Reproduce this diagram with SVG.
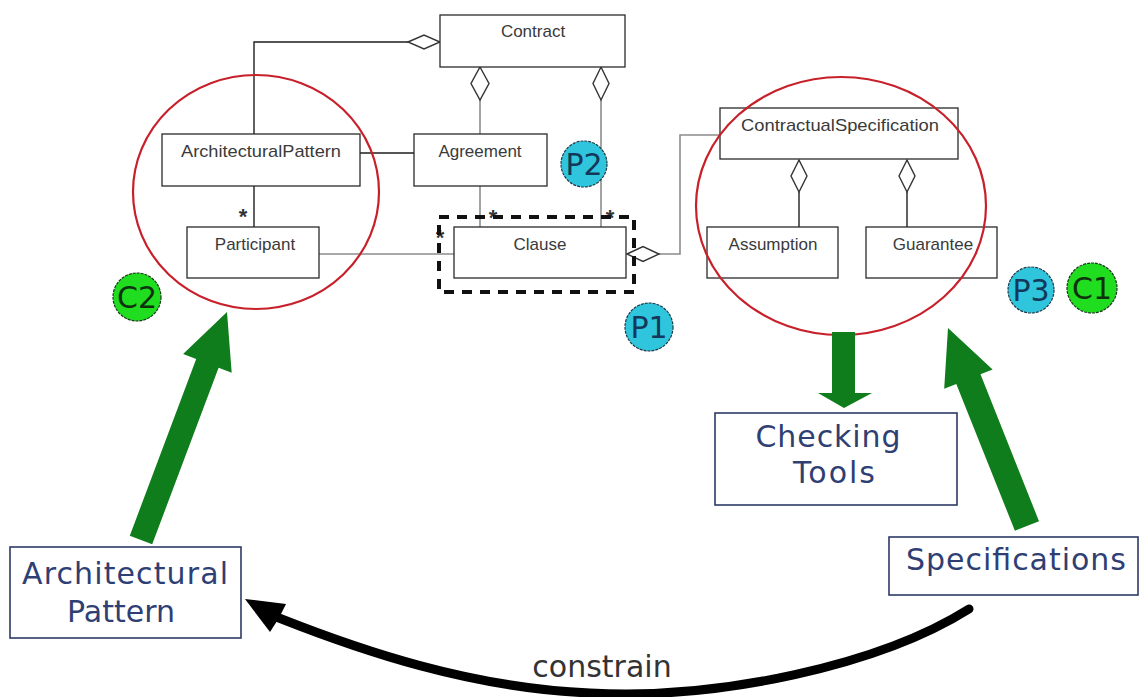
<svg xmlns="http://www.w3.org/2000/svg" width="1139" height="697" viewBox="0 0 1139 697">
  <style>
    .box { fill: #ffffff; stroke: #2a2a2a; stroke-width: 1.3; }
    .uml { font-family: "Liberation Sans", Arial, sans-serif; font-size: 17px; fill: #3a3a3a; text-anchor: middle; }
    .star { font-family: "Liberation Sans", Arial, sans-serif; font-size: 22px; font-weight: bold; fill: #333333; text-anchor: middle; }
    .dark { fill: none; stroke: #1e1e1e; stroke-width: 1.4; }
    .grey { fill: none; stroke: #8c8c8c; stroke-width: 1.6; }
    .dia { fill: #ffffff; stroke: #333333; stroke-width: 1.4; }
    .halo { fill: none; stroke: #c8202a; stroke-width: 2.2; }
    .big { fill: #ffffff; stroke: #2e3a66; stroke-width: 1.6; }
    .label { font-family: "DejaVu Sans", Verdana, sans-serif; font-size: 30px; fill: #2f3f74; text-anchor: middle; }
    .green { fill: #0f7d1c; }
    .badgeP { fill: #2fc6dd; stroke: #1c3a4a; stroke-width: 1.2; stroke-dasharray: 3 1; }
    .badgeC { fill: #20dd20; stroke: #173a17; stroke-width: 1.2; stroke-dasharray: 3 1; }
    .btxt { font-family: "DejaVu Sans", Verdana, sans-serif; font-size: 30px; text-anchor: middle; }
  </style>

  <rect width="1139" height="697" fill="#ffffff"/>

  <!-- class-diagram connectors -->
  <g id="connectors">
    <!-- Contract aggregates ArchitecturalPattern -->
    <polyline class="dark" points="408,42 254,42 254,134"/>
    <polygon class="dia" points="408,42 424,35 440,42 424,49"/>
    <!-- Contract aggregates Agreement / Clause -->
    <line class="grey" x1="480" y1="100" x2="480" y2="134"/>
    <polygon class="dia" points="480,67 489,83.5 480,100 471,83.5"/>
    <line class="grey" x1="601" y1="100" x2="601" y2="227"/>
    <polygon class="dia" points="601,67 609,83.5 601,100 593,83.5"/>
    <!-- ArchitecturalPattern - Agreement -->
    <line class="dark" x1="360" y1="153" x2="414" y2="153"/>
    <!-- ArchitecturalPattern - Participant -->
    <line class="dark" x1="254" y1="186" x2="254" y2="227"/>
    <!-- Agreement - Clause -->
    <line class="grey" x1="480" y1="186" x2="480" y2="227"/>
    <!-- Participant - Clause -->
    <line class="grey" x1="319" y1="254" x2="454" y2="254"/>
    <!-- ContractualSpecification aggregates Clause -->
    <polyline class="grey" points="659,254 680,254 680,135 720,135"/>
    <polygon class="dia" points="627,254 643,246.5 659,254 643,261.5"/>
    <!-- ContractualSpecification aggregates Assumption / Guarantee -->
    <line class="dark" x1="799" y1="192" x2="799" y2="227"/>
    <polygon class="dia" points="799,160 807,176 799,192 791,176"/>
    <line class="dark" x1="907" y1="192" x2="907" y2="227"/>
    <polygon class="dia" points="907,160 915,176 907,192 899,176"/>
    <!-- multiplicities -->
    <text class="star" x="243" y="224">*</text>
    <text class="star" x="493" y="225">*</text>
    <text class="star" x="610" y="225">*</text>
    <text class="star" x="440" y="245">*</text>
  </g>

  <!-- classes -->
  <g id="contract">
    <rect class="box" x="440" y="15" width="185" height="52"/>
    <text class="uml" x="533" y="37">Contract</text>
  </g>
  <g id="architectural-pattern-class">
    <rect class="box" x="162" y="134" width="198" height="52"/>
    <text class="uml" x="261" y="157" textLength="160" lengthAdjust="spacingAndGlyphs">ArchitecturalPattern</text>
  </g>
  <g id="agreement">
    <rect class="box" x="414" y="134" width="133" height="52"/>
    <text class="uml" x="480" y="157">Agreement</text>
  </g>
  <g id="participant">
    <rect class="box" x="187" y="227" width="132" height="51"/>
    <text class="uml" x="255" y="250">Participant</text>
  </g>
  <g id="clause">
    <rect class="box" x="454" y="227" width="172" height="51"/>
    <text class="uml" x="540" y="250">Clause</text>
    <rect x="439" y="217" width="195" height="75" fill="none" stroke="#111111" stroke-width="4" stroke-dasharray="10 8"/>
  </g>
  <g id="contractual-specification">
    <rect class="box" x="720" y="108" width="238" height="51"/>
    <text class="uml" x="840" y="131" textLength="198" lengthAdjust="spacingAndGlyphs">ContractualSpecification</text>
  </g>
  <g id="assumption">
    <rect class="box" x="707" y="227" width="131" height="51"/>
    <text class="uml" x="773" y="250">Assumption</text>
  </g>
  <g id="guarantee">
    <rect class="box" x="866" y="227" width="131" height="51"/>
    <text class="uml" x="933" y="250">Guarantee</text>
  </g>

  <!-- highlighted regions -->
  <g id="highlights">
    <ellipse class="halo" cx="256" cy="192" rx="123" ry="117"/>
    <ellipse class="halo" cx="841" cy="206" rx="145" ry="129"/>
  </g>

  <!-- badges -->
  <g id="badge-p2">
    <circle class="badgeP" cx="584" cy="164" r="23"/>
    <text class="btxt" x="584" y="175" fill="#14385a">P2</text>
  </g>
  <g id="badge-p1">
    <circle class="badgeP" cx="649" cy="327" r="24"/>
    <text class="btxt" x="649" y="338" fill="#14385a">P1</text>
  </g>
  <g id="badge-p3">
    <circle class="badgeP" cx="1031" cy="290" r="23"/>
    <text class="btxt" x="1031" y="301" fill="#14385a">P3</text>
  </g>
  <g id="badge-c1">
    <circle class="badgeC" cx="1092" cy="288" r="25"/>
    <text class="btxt" x="1092" y="299" fill="#0d320d">C1</text>
  </g>
  <g id="badge-c2">
    <circle class="badgeC" cx="137" cy="297" r="24"/>
    <text class="btxt" x="137" y="308" fill="#0d320d">C2</text>
  </g>

  <!-- green flow arrows -->
  <g id="green-arrows">
    <polygon class="green" points="129.8,535.7 152.2,544.3 218.6,367.7 231.7,372.7 227,312 183.1,354.1 196.2,359.1"/>
    <polygon class="green" points="832,332 855,332 855,393 872,393 844,408 818,393 832,393"/>
    <polygon class="green" points="1014.9,530.8 1039,521.2 980.5,374.3 992.6,369.5 948,328 944.2,388.7 956.3,383.9"/>
  </g>

  <!-- tool / artefact boxes -->
  <g id="checking-tools">
    <rect class="big" x="715" y="413" width="242" height="92"/>
    <text class="label" x="828" y="447" textLength="145" lengthAdjust="spacing">Checking</text>
    <text class="label" x="834" y="483" textLength="82" lengthAdjust="spacing">Tools</text>
  </g>
  <g id="specifications">
    <rect class="big" x="889" y="537" width="249" height="58"/>
    <text class="label" x="1016" y="570" textLength="220" lengthAdjust="spacing">Specifications</text>
  </g>
  <g id="architectural-pattern">
    <rect class="big" x="10" y="547" width="231" height="91"/>
    <text class="label" x="125" y="584" textLength="206" lengthAdjust="spacing">Architectural</text>
    <text class="label" x="121" y="622">Pattern</text>
  </g>

  <!-- constrain relation -->
  <g id="constrain">
    <path d="M 969,609 C 880,665 720,700 590,693 C 470,688 360,650 279,618" fill="none" stroke="#000000" stroke-width="9" stroke-linecap="round"/>
    <polygon points="245,599 286,604 279,618 270,632" fill="#000000"/>
    <text class="label" x="602" y="677" style="fill:#333333">constrain</text>
  </g>
</svg>
